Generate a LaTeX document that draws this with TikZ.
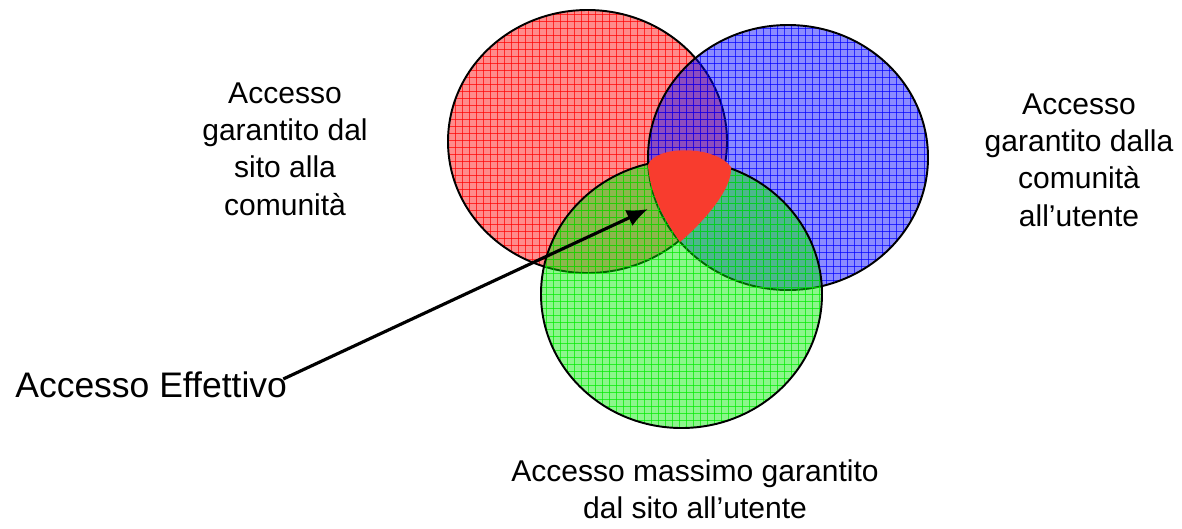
\documentclass[tikz,border=0pt]{standalone}
\usepackage{fontspec}
\setmainfont{Liberation Sans}
\usetikzlibrary{arrows.meta}
\definecolor{setred}{RGB}{255,0,0}
\definecolor{setblue}{RGB}{0,0,255}
\definecolor{setgreen}{RGB}{0,235,0}
\definecolor{corered}{RGB}{248,60,46}
\tikzset{
  rim/.style={draw=black,line width=1.1pt},
  gridline/.style={line width=0.4pt,opacity=0.7},
  setlabel/.style={align=center,inner sep=0pt,font=\fontsize{17.1}{21.3}\selectfont},
  pointer/.style={line width=1.8pt,-{Latex[length=12pt,width=10pt]}}
}
\begin{document}
\begin{tikzpicture}[x=0.02cm,y=-0.02cm]
\useasboundingbox (0,0) rectangle (1182,528);

\begin{scope}
\clip (587.5,141.5) ellipse [x radius=139.5,y radius=131.5];
\fill[setred,opacity=.45] (440,0) rectangle (740,290);
\foreach \gx in {448,455,...,735} \draw[setred,gridline] (\gx,0) -- (\gx,290);
\foreach \gy in {7,14,...,287} \draw[setred,gridline] (440,\gy) -- (740,\gy);
\end{scope}
\draw[rim] (587.5,141.5) ellipse [x radius=139.5,y radius=131.5];

\begin{scope}
\clip (788,157.5) ellipse [x radius=140,y radius=132.5];
\fill[setblue,opacity=.45] (640,20) rectangle (935,300);
\foreach \gx in {644,651,...,934} \draw[setblue,gridline] (\gx,20) -- (\gx,300);
\foreach \gy in {21,28,...,298} \draw[setblue,gridline] (640,\gy) -- (935,\gy);
\end{scope}
\draw[rim] (788,157.5) ellipse [x radius=140,y radius=132.5];

\begin{scope}
\clip (681.5,294) ellipse [x radius=140.5,y radius=134];
\fill[setgreen,opacity=.45] (535,155) rectangle (830,435);
\foreach \gx in {539,546,...,829} \draw[setgreen,gridline] (\gx,155) -- (\gx,435);
\foreach \gy in {161,168,...,434} \draw[setgreen,gridline] (535,\gy) -- (830,\gy);
\end{scope}
\draw[rim] (681.5,294) ellipse [x radius=140.5,y radius=134];

\fill[corered] (648,165) .. controls (655,145) and (715,145) .. (731,167)
  .. controls (733,190) and (700,225) .. (680,242)
  .. controls (672,230) and (650,200) .. (648,165) -- cycle;

\node[setlabel] (siteLabel) at (285,149) {Accesso\\garantito dal\\sito alla\\comunità};
\node[setlabel] (communityLabel) at (1079,160) {Accesso\\garantito dalla\\comunità\\all’utente};
\node[setlabel] (userLabel) at (695,489.5) {Accesso massimo garantito\\dal sito all’utente};
\node[anchor=west,inner sep=0pt,font=\fontsize{20.2}{24}\selectfont] (effLabel) at (15,385) {Accesso Effettivo};

\coordinate (coreTip) at (648,209);
\draw[pointer] ([shift={(-4,-6)}]effLabel.east) -- (coreTip);
\end{tikzpicture}
\end{document}
